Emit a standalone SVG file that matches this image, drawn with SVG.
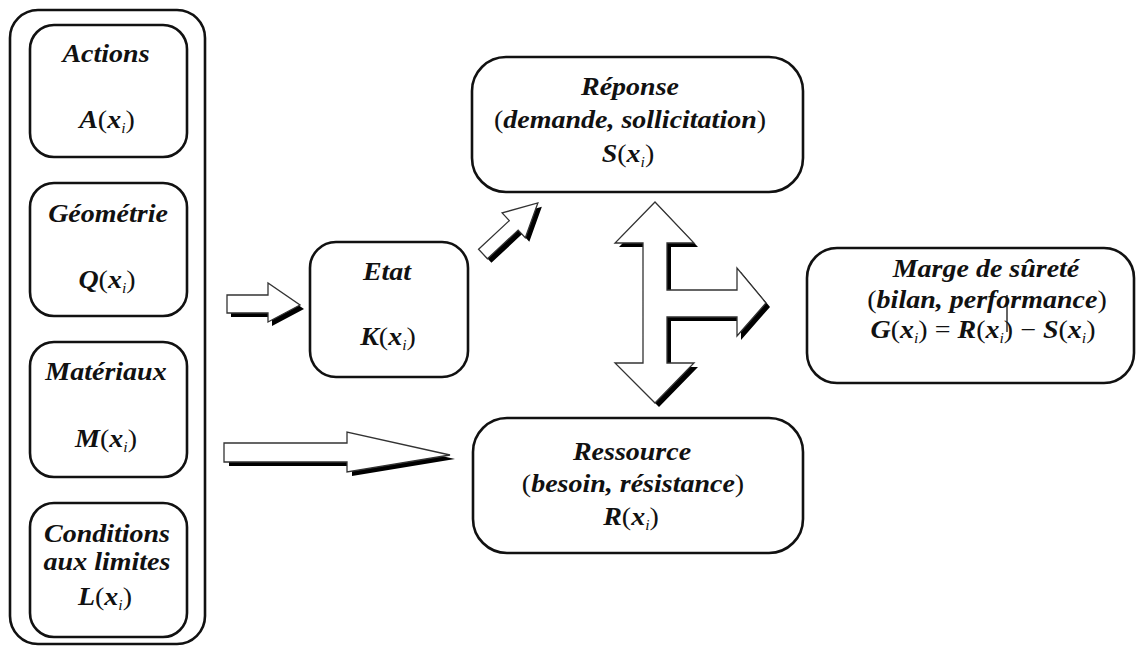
<svg xmlns="http://www.w3.org/2000/svg" xmlns:xlink="http://www.w3.org/1999/xlink" width="1136" height="647" viewBox="0 0 1136 647">
<style>
.box{fill:#fff;stroke:#111;stroke-width:2.6}
.t{font-family:"Liberation Serif","Times New Roman",serif;font-weight:bold;font-style:italic;font-size:25px;fill:#111;text-anchor:middle}
.p{font-style:normal;font-weight:normal}
.s{font-size:14px;font-weight:normal}
.sh{fill:#000;stroke:none}
.ar{fill:#fff;stroke:#333;stroke-width:1.3;stroke-linejoin:miter}
</style>
<defs>
<path id="cross" d="M655,202 L694,243 L667,243 L667,290 L737,290 L737,268 L766,303 L737,336 L737,317 L667,317 L667,363 L694,363 L655,403 L615,363 L643,363 L643,243 L615,243 Z"/>
<path id="small" d="M227,295 L268,295 L268,283 L300,305 L268,322 L268,313 L227,313 Z"/>
<path id="long" d="M224,443 L347,443 L347,432 L450,455 L347,472 L347,462 L224,462 Z"/>
<path id="diag" d="M0,-6.5 L42,-6.5 L42,-17 L75,0 L42,17 L42,6.5 L0,6.5 Z"/>
</defs>
<g id="inputs">
<rect class="box" x="10" y="10" width="195" height="634" rx="28"/>
<g id="actions">
<rect class="box" x="30" y="25" width="157" height="132" rx="24"/>
<text class="t" transform="translate(106,62) scale(1.12,1)">Actions</text>
<text class="t" transform="translate(107,128) scale(1.12,1)">A<tspan class="p">(</tspan>x<tspan class="s" dy="5">i</tspan><tspan class="p" dy="-5">)</tspan></text>
</g>
<g id="geometrie">
<rect class="box" x="30" y="183" width="157" height="133" rx="24"/>
<text class="t" transform="translate(108,222) scale(1.12,1)">Géométrie</text>
<text class="t" transform="translate(107,288) scale(1.12,1)">Q<tspan class="p">(</tspan>x<tspan class="s" dy="5">i</tspan><tspan class="p" dy="-5">)</tspan></text>
</g>
<g id="materiaux">
<rect class="box" x="30" y="342" width="157" height="135" rx="24"/>
<text class="t" transform="translate(106,380) scale(1.12,1)">Matériaux</text>
<text class="t" transform="translate(106,447) scale(1.12,1)">M<tspan class="p">(</tspan>x<tspan class="s" dy="5">i</tspan><tspan class="p" dy="-5">)</tspan></text>
</g>
<g id="conditions">
<rect class="box" x="30" y="503" width="157" height="134" rx="24"/>
<text class="t" transform="translate(107,542) scale(1.12,1)">Conditions</text>
<text class="t" transform="translate(107,570) scale(1.12,1)">aux limites</text>
<text class="t" transform="translate(105,605) scale(1.12,1)">L<tspan class="p">(</tspan>x<tspan class="s" dy="5">i</tspan><tspan class="p" dy="-5">)</tspan></text>
</g>
</g>
<g id="etat">
<rect class="box" x="310" y="242" width="158" height="135" rx="26"/>
<text class="t" transform="translate(387,280) scale(1.12,1)">Etat</text>
<text class="t" transform="translate(388,345) scale(1.12,1)">K<tspan class="p">(</tspan>x<tspan class="s" dy="5">i</tspan><tspan class="p" dy="-5">)</tspan></text>
</g>
<g id="reponse">
<rect class="box" x="472" y="57" width="331" height="135" rx="34"/>
<text class="t" transform="translate(630,95) scale(1.12,1)">Réponse</text>
<text class="t" transform="translate(630,128) scale(1.12,1)"><tspan class="p">(</tspan>demande, sollicitation<tspan class="p">)</tspan></text>
<text class="t" transform="translate(628,162) scale(1.12,1)">S<tspan class="p">(</tspan>x<tspan class="s" dy="5">i</tspan><tspan class="p" dy="-5">)</tspan></text>
</g>
<g id="ressource">
<rect class="box" x="473" y="418" width="330" height="135" rx="34"/>
<text class="t" transform="translate(632,460) scale(1.12,1)">Ressource</text>
<text class="t" transform="translate(633,492) scale(1.12,1)"><tspan class="p">(</tspan>besoin, résistance<tspan class="p">)</tspan></text>
<text class="t" transform="translate(631,525) scale(1.12,1)">R<tspan class="p">(</tspan>x<tspan class="s" dy="5">i</tspan><tspan class="p" dy="-5">)</tspan></text>
</g>
<g id="marge">
<rect class="box" x="807" y="248" width="327" height="135" rx="30"/>
<text class="t" transform="translate(986,277) scale(1.12,1)">Marge de sûreté</text>
<text class="t" transform="translate(987,308) scale(1.12,1)"><tspan class="p">(</tspan>bilan, performance<tspan class="p">)</tspan></text>
<text class="t" transform="translate(983,338) scale(1.12,1)">G<tspan class="p">(</tspan>x<tspan class="s" dy="5">i</tspan><tspan class="p" dy="-5">) = </tspan>R<tspan class="p">(</tspan>x<tspan class="s" dy="5">i</tspan><tspan class="p" dy="-5">) − </tspan>S<tspan class="p">(</tspan>x<tspan class="s" dy="5">i</tspan><tspan class="p" dy="-5">)</tspan></text>
<line x1="1007" y1="295" x2="1007" y2="332" stroke="#111" stroke-width="1.3"/>
</g>
<g id="connectors">
<use xlink:href="#small" class="sh" transform="translate(4,4)"/>
<use xlink:href="#small" class="ar"/>
<use xlink:href="#long" class="sh" transform="translate(5,4)"/>
<use xlink:href="#long" class="ar"/>
<g transform="translate(4,4)"><use xlink:href="#diag" class="sh" transform="translate(483,254) rotate(-43)"/></g>
<use xlink:href="#diag" class="ar" transform="translate(483,254) rotate(-43)"/>
<use xlink:href="#cross" class="sh" transform="translate(4,4)"/>
<use xlink:href="#cross" class="ar"/>
</g>
</svg>
